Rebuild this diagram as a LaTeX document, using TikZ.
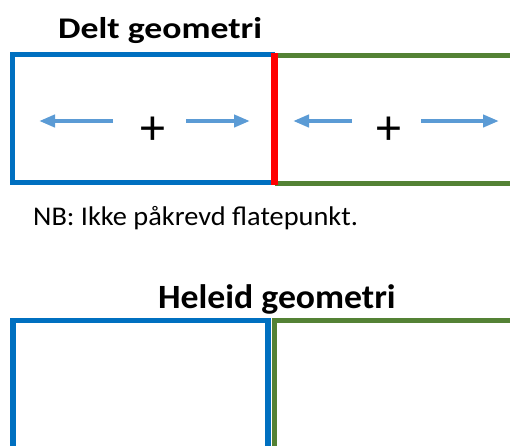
\documentclass[tikz,border=0pt]{standalone}
\usepackage{fontspec}
\setmainfont{Carlito}
\usetikzlibrary{arrows.meta}
\definecolor{boxblue}{HTML}{0070C0}
\definecolor{boxgreen}{HTML}{548235}
\definecolor{arrblue}{HTML}{5B9BD5}
\tikzset{
  bluebox/.style={draw=boxblue, line width=5.5pt},
  greenbox/.style={draw=boxgreen, line width=5pt},
  splitline/.style={draw=red, line width=7.5pt},
  dirarrow/.style={draw=arrblue, line width=4pt, -{Triangle[length=16pt,width=12pt]}},
  titletext/.style={inner sep=0pt, anchor=base west},
  plaintext/.style={inner sep=0pt, anchor=base west},
  plustext/.style={inner sep=0pt, anchor=base, font=\fontsize{50}{50}\selectfont}
}
\begin{document}
\begin{tikzpicture}[x=1pt, y=-1pt]
\useasboundingbox (0,0) rectangle (510,445);
\clip (0,0) rectangle (510,445);
% titles
\node[titletext, font=\bfseries\fontsize{30}{30}\selectfont] (delt) at (58,38.3) {\scalebox{1.19}[1]{Delt geometri}};
\node[titletext, font=\bfseries\fontsize{34}{34}\selectfont] (heleid) at (158,308.3) {\scalebox{1.05}[1]{Heleid geometri}};
\node[plaintext, font=\fontsize{27}{27}\selectfont] (nb) at (33,225) {\scalebox{1.05}[1]{NB: Ikke påkrevd flatepunkt.}};
% top: split geometry
\draw[greenbox] (274.5,55) -- (520,55) (274.5,183) -- (520,183);
\draw[bluebox] (274.5,54.5) -- (12.7,54.5) -- (12.7,182.7) -- (274.5,182.7);
\draw[splitline] (274.5,53) -- (274.5,184.5);
% plus markers
\node[plustext] (p1) at (153,144.5) {+};
\node[plustext] (p2) at (389,144.5) {+};
% arrows
\coordinate (a1s) at (113,121); \coordinate (a1e) at (39,121);
\coordinate (a2s) at (186,121); \coordinate (a2e) at (250,121);
\coordinate (a3s) at (352,121); \coordinate (a3e) at (293,121);
\coordinate (a4s) at (421,121); \coordinate (a4e) at (499,121);
\draw[dirarrow] (a1s) -- (a1e);
\draw[dirarrow] (a2s) -- (a2e);
\draw[dirarrow] (a3s) -- (a3e);
\draw[dirarrow] (a4s) -- (a4e);
% bottom: whole geometry
\draw[bluebox] (12.8,460) -- (12.8,320.5) -- (268.2,320.5) -- (268.2,460);
\draw[greenbox] (520,320.5) -- (274.5,320.5) -- (274.5,460);
\end{tikzpicture}
\end{document}
